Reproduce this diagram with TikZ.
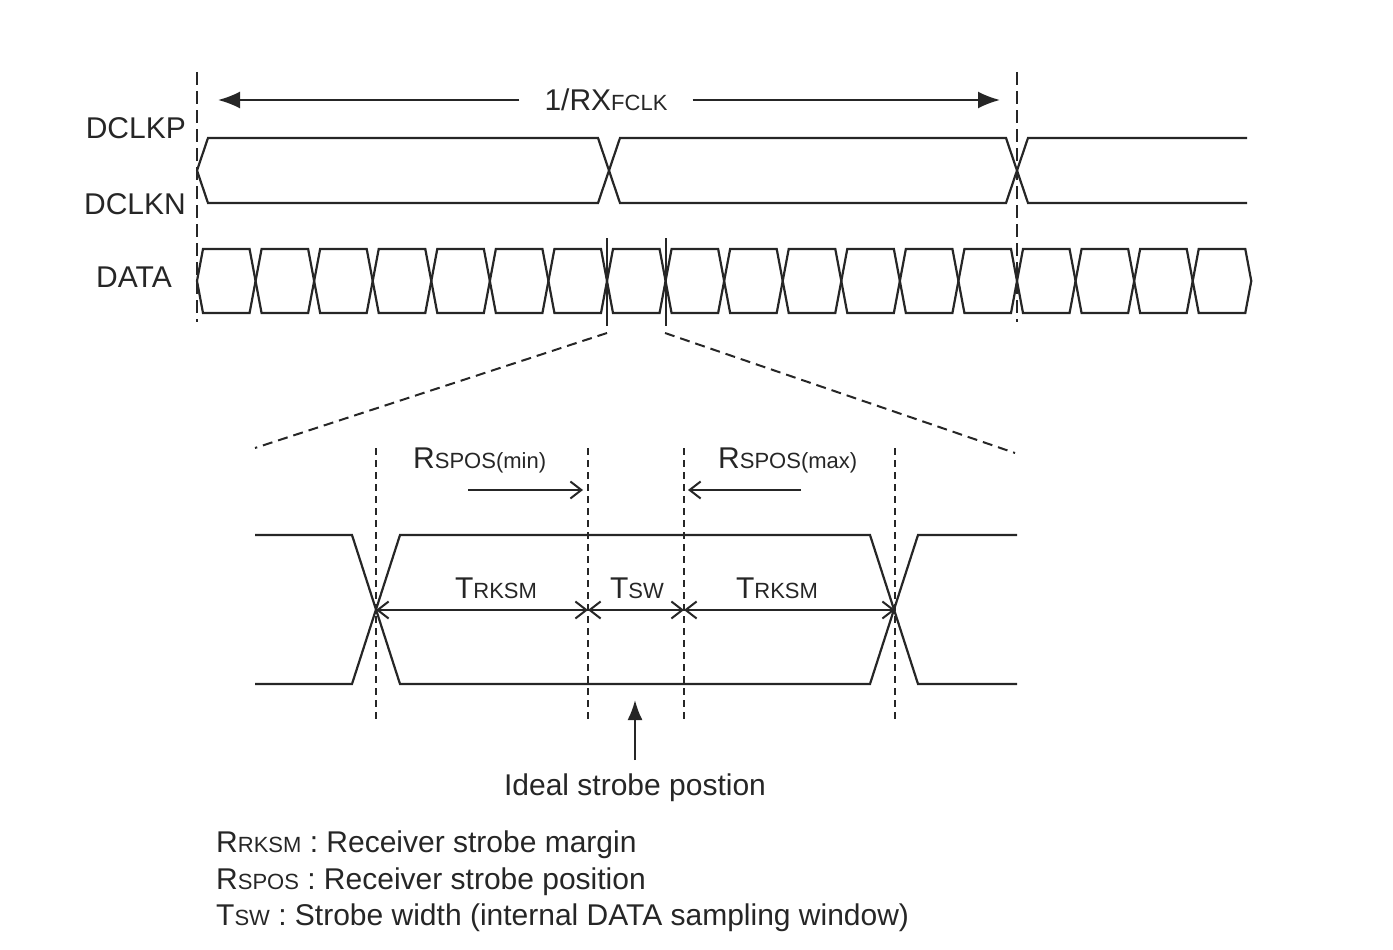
\documentclass[tikz,border=0pt]{standalone}
\usepackage{fontspec}
\setmainfont{Liberation Sans}
\usetikzlibrary{arrows.meta}
\newcommand{\bs}[2]{{\fontsize{30}{30}\selectfont #1}{\fontsize{22}{22}\selectfont #2}}
\begin{document}
\begin{tikzpicture}[x=1pt,y=-1pt,
  sig/.style={line width=2.2pt, line join=miter, draw=black!85},
  vdash/.style={line width=2pt, draw=black!85, dash pattern=on 13pt off 6pt},
  sdash/.style={line width=1.8pt, draw=black!85, dash pattern=on 7pt off 5pt},
  zdash/.style={line width=2pt, draw=black!85, dash pattern=on 10pt off 6pt},
  txt/.style={inner sep=0pt, text=black!85, font=\fontsize{30}{30}\selectfont},
  bigarrow/.style={line width=2pt, draw=black!85, -{Latex[length=22pt,width=17pt]}},
  barb/.style={line width=2pt, draw=black!85, -{Straight Barb[length=11pt,width=17pt]}},
  dim/.style={line width=2pt, draw=black!85, {Straight Barb[length=11pt,width=17pt]}-{Straight Barb[length=11pt,width=17pt]}}
]
\useasboundingbox (0,0) rectangle (1393,950);
% ---- labels top
\node[txt, anchor=east] (dclkp) at (186,128) {DCLKP};
\node[txt, anchor=east] (dclkn) at (186,204) {DCLKN};
\node[txt, anchor=east] (data) at (172,277) {DATA};
% ---- period arrow
\node[txt, inner xsep=25pt] (period) at (606,100) {\bs{1/RX}{FCLK}};
\coordinate (pl) at (218,100);
\coordinate (pr) at (1000,100);
\draw[bigarrow] (period) -- (pl);
\draw[bigarrow] (period) -- (pr);
% ---- vertical dashed
\coordinate (vl1) at (197,72); \coordinate (vl2) at (197,322);
\coordinate (vr1) at (1017,72); \coordinate (vr2) at (1017,322);
\draw[vdash] (vl1) -- (vl2);
\draw[vdash] (vr1) -- (vr2);
% ---- clock
\draw[sig] (197,170.5) -- (208,138) -- (598,138) -- (620,203) -- (1006,203) -- (1028,138) -- (1247,138);
\draw[sig] (197,170.5) -- (208,203) -- (598,203) -- (620,138) -- (1006,138) -- (1028,203) -- (1247,203);
% ---- data
\foreach \i in {0,...,17}{
  \pgfmathsetmacro\a{197+\i*820/14}
  \pgfmathsetmacro\b{197+(\i+1)*820/14}
  \draw[sig] (\a,281) -- (\a+6,249) -- (\b-6,249) -- (\b,281) -- (\b-6,313) -- (\a+6,313) -- cycle;
}
% ---- ticks
\coordinate (ta1) at (607,238); \coordinate (ta2) at (607,326);
\coordinate (tb1) at (665.6,238); \coordinate (tb2) at (665.6,326);
\draw[line width=2pt, draw=black!85] (ta1) -- (ta2);
\draw[line width=2pt, draw=black!85] (tb1) -- (tb2);
% ---- zoom lines
\coordinate (za) at (607,333); \coordinate (zb) at (255,448);
\coordinate (zc) at (665,333); \coordinate (zd) at (1015,453);
\draw[zdash] (za) -- (zb);
\draw[zdash] (zc) -- (zd);
% ---- detail waveform
\draw[sig] (255,535) -- (352,535) -- (400,684) -- (870,684) -- (918,535) -- (1017,535);
\draw[sig] (255,684) -- (352,684) -- (400,535) -- (870,535) -- (918,684) -- (1017,684);
% ---- detail dashed lines
\foreach \xx/\nm in {376/a,588/b,684/c,895/d}{
  \coordinate (s\nm1) at (\xx,448); \coordinate (s\nm2) at (\xx,720);
  \draw[sdash] (s\nm1) -- (s\nm2);
}
% ---- RSPOS
\node[txt, anchor=west] (rmin) at (413,460) {\bs{R}{SPOS(min)}};
\node[txt, anchor=west] (rmax) at (718,460) {\bs{R}{SPOS(max)}};
\coordinate (rm1) at (468,490); \coordinate (rm2) at (583,490);
\coordinate (rx1) at (801,490); \coordinate (rx2) at (688,490);
\draw[barb] (rm1) -- (rm2);
\draw[barb] (rx1) -- (rx2);
% ---- dimension line
\coordinate (d1) at (376,610); \coordinate (d2) at (588,610);
\coordinate (d3) at (684,610); \coordinate (d4) at (895,610);
\draw[dim] (d1) -- (d2);
\draw[dim] (d2) -- (d3);
\draw[dim] (d3) -- (d4);
\node[txt] (t1) at (496,588) {\bs{T}{RKSM}};
\node[txt] (t2) at (637,588) {\bs{T}{SW}};
\node[txt] (t3) at (777,588) {\bs{T}{RKSM}};
% ---- ideal
\node[txt] (ideal) at (635,788) {Ideal strobe postion};
\coordinate (ia) at (635,760); \coordinate (ib) at (635,700);
\draw[line width=2pt, draw=black!85, -{Latex[length=20pt,width=15pt]}] (ia) -- (ib);
% ---- legend
\node[txt, anchor=west] (l1) at (216,845) {\bs{R}{RKSM} : Receiver strobe margin};
\node[txt, anchor=west] (l2) at (216,882) {\bs{R}{SPOS} : Receiver strobe position};
\node[txt, anchor=west] (l3) at (216,918) {\bs{T}{SW} : Strobe width (internal DATA sampling window)};
\end{tikzpicture}
\end{document}
